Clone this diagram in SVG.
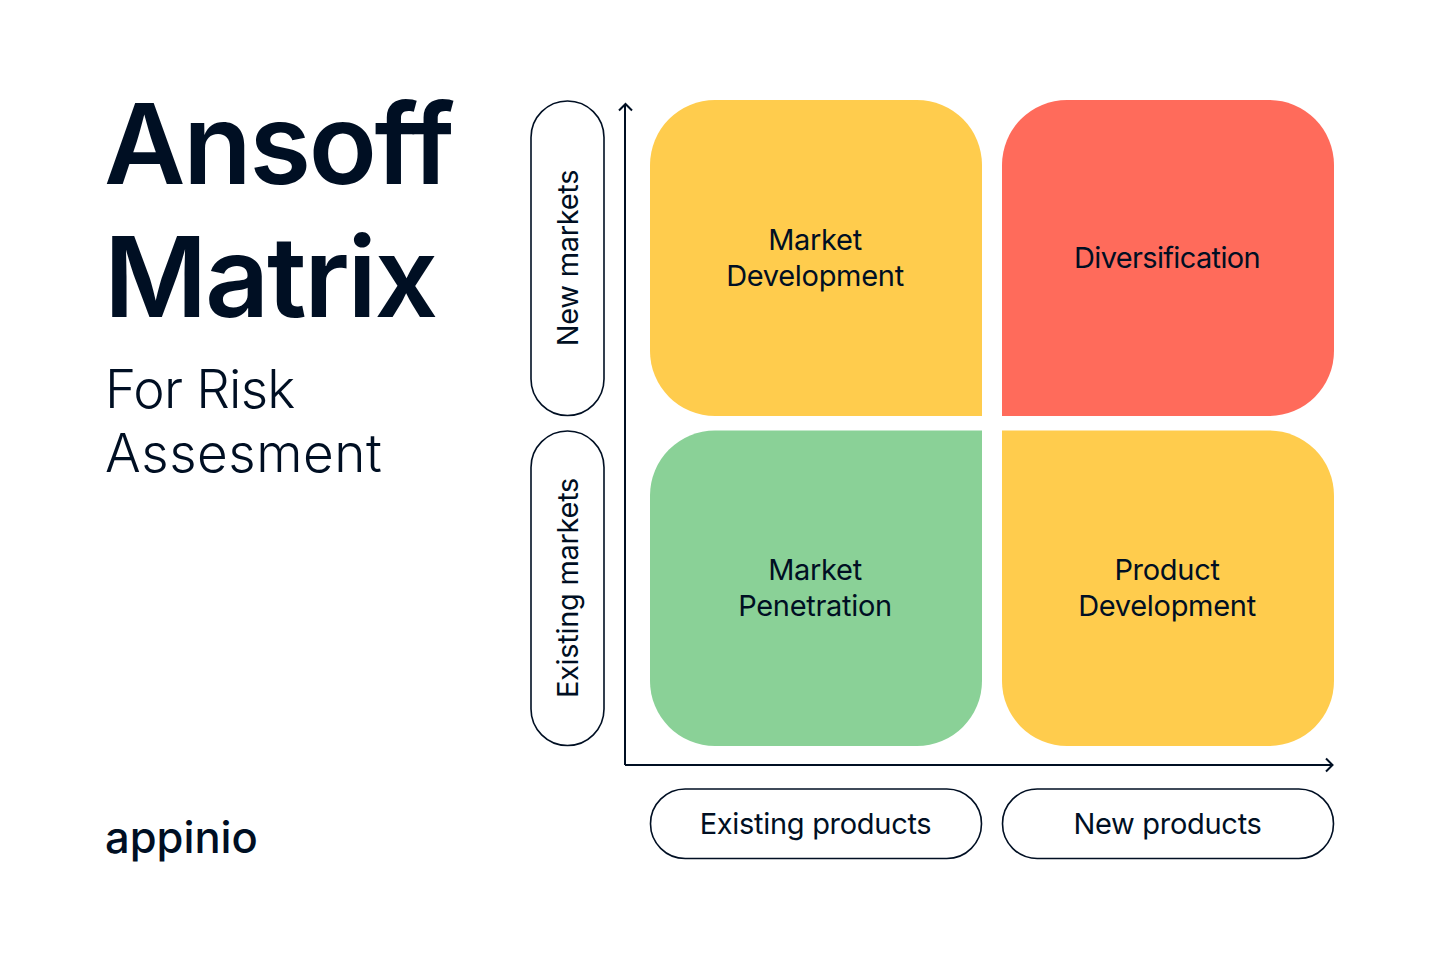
<svg xmlns="http://www.w3.org/2000/svg" width="1440" height="960" viewBox="0 0 1440 960">
<style>
text{font-family:Inter,"Liberation Sans",sans-serif;fill:#000f23}
.t{font-size:112px;font-weight:560;letter-spacing:-2.300px}
.s{font-size:53px;font-weight:300}
.l{font-size:29px;text-anchor:middle;letter-spacing:-.3px}
.p{fill:#fff;stroke:#000f23;stroke-width:1.600}
.a{fill:none;stroke:#000f23;stroke-width:2}
</style>
<rect width="1440" height="960" fill="#fff"/>
<g id="title"><text class="t" x="104" y="184">Ansoff</text><text class="t" x="104" y="317">Matrix</text></g>
<g id="subtitle"><text class="s" x="105" y="408" style="letter-spacing:-.8px">For Risk</text><text class="s" x="105" y="472" style="letter-spacing:.55px">Assesment</text></g>
<g id="logo"><text x="105" y="853" style="font-size:43.500px;font-weight:500">appinio</text></g>
<g id="connectors">
<path class="a" d="M625 765V104M619 110.500L625.500 104L632 110.500M625 765H1332.500M1326 758.500L1332.500 765L1326 771.500"/>
</g>
<g id="market-development"><path d="M715 100H917A65 65 0 0 1 982 165V416H715A65 65 0 0 1 650 351V165A65 65 0 0 1 715 100Z" fill="#ffcc4d"/><text class="l" x="815" y="250">Market</text><text class="l" x="815" y="286">Development</text></g>
<g id="diversification"><path d="M1067 100H1269A65 65 0 0 1 1334 165V351A65 65 0 0 1 1269 416H1002V165A65 65 0 0 1 1067 100Z" fill="#ff6b5b"/><text class="l" x="1167" y="268" style="letter-spacing:-.65px">Diversification</text></g>
<g id="market-penetration"><path d="M982 430.500V681A65 65 0 0 1 917 746H715A65 65 0 0 1 650 681V495.500A65 65 0 0 1 715 430.500Z" fill="#8ad197"/><text class="l" x="815" y="580">Market</text><text class="l" x="815" y="616">Penetration</text></g>
<g id="product-development"><path d="M1002 430.500H1269A65 65 0 0 1 1334 495.500V681A65 65 0 0 1 1269 746H1067A65 65 0 0 1 1002 681Z" fill="#ffcc4d"/><text class="l" x="1167" y="580">Product</text><text class="l" x="1167" y="616">Development</text></g>
<g id="new-markets"><rect class="p" x="531" y="101" width="73" height="314.500" rx="36.500"/><text class="l" transform="translate(577.500 258) rotate(-90)">New markets</text></g>
<g id="existing-markets"><rect class="p" x="531" y="431" width="73" height="314.500" rx="36.500"/><text class="l" transform="translate(577.500 588) rotate(-90)">Existing markets</text></g>
<g id="existing-products"><rect class="p" x="650.500" y="789" width="331" height="69.500" rx="34.700"/><text class="l" x="815.500" y="834">Existing products</text></g>
<g id="new-products"><rect class="p" x="1002.500" y="789" width="331" height="69.500" rx="34.700"/><text class="l" x="1167.500" y="834">New products</text></g>
</svg>
